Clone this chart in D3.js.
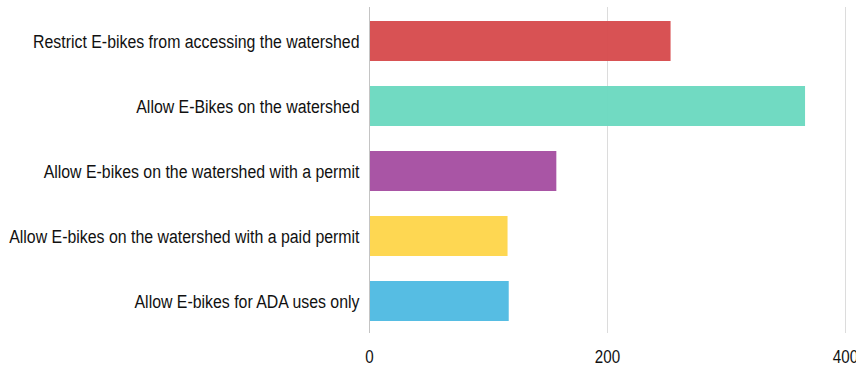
<!DOCTYPE html>
<html>
<head>
<meta charset="utf-8">
<script src="https://cdn.jsdelivr.net/npm/d3@7/dist/d3.min.js"></script>
<style>
  html, body { margin: 0; padding: 0; background: #fff; }
  svg text { font-family: "Liberation Sans", Arial, Helvetica, sans-serif; fill: #111; }
</style>
</head>
<body>
<svg id="chart" width="856" height="369"></svg>
<script>
const categories = [
  "Restrict E-bikes from accessing the watershed",
  "Allow E-Bikes on the watershed",
  "Allow E-bikes on the watershed with a permit",
  "Allow E-bikes on the watershed with a paid permit",
  "Allow E-bikes for ADA uses only"
];
const values = [253, 366, 157, 116, 117];
const colors = ["#d64b4d", "#6bd8c0", "#a64ea1", "#fed54b", "#4fbae2"];
const tickValues = [0, 200, 400];

// condensed lettering: a narrow horizontal squeeze of the sans face
const labelSqueeze = 0.836;
const tickSqueeze = 0.82;

const svg = d3.select("#chart");
const margin = { left: 369.5, top: 8.5, bottom: 35.5 };
const x = d3.scaleLinear().domain([0, 400]).range([margin.left, 845.5]);
const y = d3.scaleBand()
  .domain(categories)
  .range([margin.top, 369 - margin.bottom])
  .paddingInner(25 / 65)
  .paddingOuter(12.5 / 65);

// vertical grid lines
svg.append("g")
  .selectAll("line")
  .data(tickValues.slice(1))
  .join("line")
  .attr("x1", d => x(d)).attr("x2", d => x(d))
  .attr("y1", 7).attr("y2", 333)
  .attr("stroke", "#dcdcdc")
  .attr("stroke-width", 1);

// bars
svg.append("g")
  .selectAll("rect")
  .data(values)
  .join("rect")
  .attr("x", x(0))
  .attr("y", (d, i) => y(categories[i]))
  .attr("width", d => x(d) - x(0))
  .attr("height", y.bandwidth())
  .attr("fill", (d, i) => colors[i])
  .attr("fill-opacity", 0.96);

// zero baseline
svg.append("line")
  .attr("x1", x(0)).attr("x2", x(0))
  .attr("y1", 7).attr("y2", 333)
  .attr("stroke", "#c4c4c4")
  .attr("stroke-width", 1);

// category labels
svg.append("g")
  .selectAll("text")
  .data(categories)
  .join("text")
  .attr("transform", d => `translate(${x(0) - 10},${y(d) + y.bandwidth() / 2}) scale(${labelSqueeze},1)`)
  .attr("dy", "0.35em")
  .attr("text-anchor", "end")
  .style("font-size", "19px")
  .text(d => d);

// x tick labels
svg.append("g")
  .selectAll("text")
  .data(tickValues)
  .join("text")
  .attr("transform", d => `translate(${x(d)},357) scale(${tickSqueeze},1)`)
  .attr("dy", "0.35em")
  .attr("text-anchor", "middle")
  .style("font-size", "18.5px")
  .text(d => d);
</script>
</body>
</html>
